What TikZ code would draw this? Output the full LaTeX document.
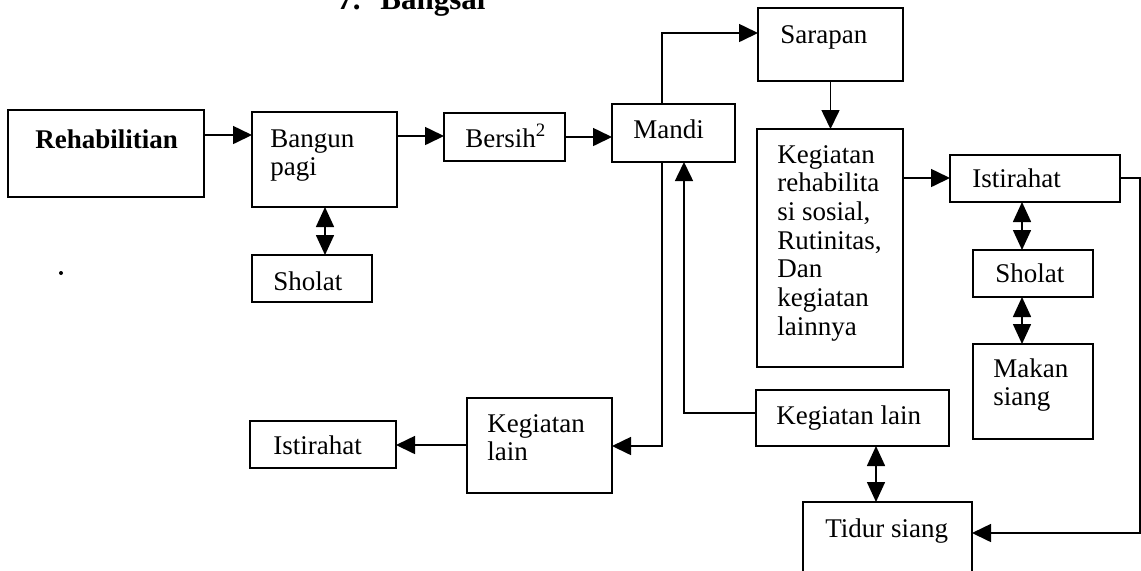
\documentclass[tikz,border=0pt]{standalone}
\usepackage{fontspec}
\setmainfont{Liberation Serif}
\usetikzlibrary{arrows.meta}

% box from its corners (x1,y1) to (x2,y2), in picture units
\newcommand\mkbox[5]{%
  \pgfmathsetmacro\bw{(#4-#2)*0.5}%
  \pgfmathsetmacro\bh{(#5-#3)*0.5}%
  \node[box, minimum width=\bw pt, minimum height=\bh pt] (#1) at ({(#2+#4)/2},{(#3+#5)/2}) {};}
% several lines, hung from the baseline of the first one
\newcommand\lines[1]{\begin{tabular}[t]{@{}l@{}}#1\end{tabular}}

\begin{document}
\begin{tikzpicture}[x=0.5pt,y=-0.5pt,
  box/.style={draw, line width=0.85pt, inner sep=0pt, outer sep=0pt},
  txt/.style={anchor=base west, inner sep=0pt,
              font=\fontsize{13.5}{14.35}\selectfont},
  ttl/.style={anchor=base west, inner sep=0pt,
              font=\fontsize{15.5}{17}\selectfont\bfseries},
  link/.style={line width=0.8pt},
  arr/.style={link, -{Triangle[length=9.5pt,width=9pt]}},
  dbl/.style={link, {Triangle[length=10pt,width=9pt]}-{Triangle[length=10pt,width=9pt]}}]

\useasboundingbox (0,0) rectangle (1141,570);

% heading
\node[ttl] (num) at (337,9) {7.};
\node[ttl] (head) at (380,9) {Bangsal};

% boxes
\mkbox{rehab}{8}{110}{204}{197}
\mkbox{bangun}{252}{112}{397}{207}
\mkbox{bersih}{444}{113}{565}{161}
\mkbox{mandi}{612}{104}{735}{162}
\mkbox{sarapan}{758}{8}{903}{81}
\mkbox{keg}{757}{129}{903}{367}
\mkbox{istR}{950}{155}{1120}{202}
\mkbox{sholR}{973}{250}{1093}{297}
\mkbox{makan}{973}{344}{1093}{439}
\mkbox{lainR}{756}{390}{949}{446}
\mkbox{lainL}{467}{398}{612}{493}
\mkbox{istL}{250}{421}{396}{468}
\mkbox{tidur}{803}{502}{972}{590}
\mkbox{sholL}{252}{255}{372}{302}

% box texts
\node[txt, font=\fontsize{13.5}{14.35}\selectfont\bfseries] (trehab) at (35,148) {Rehabilitian};
\node[txt] (tbangun) at (270,147) {\lines{Bangun\\pagi}};
\node[txt] (tbersih) at (465,147) {Bersih\textsuperscript{2}};
\node[txt] (tmandi) at (633,138) {Mandi};
\node[txt] (tsarapan) at (780,43) {Sarapan};
\node[txt] (tkeg) at (777,163) {\lines{Kegiatan\\rehabilita\\si sosial,\\Rutinitas,\\Dan\\kegiatan\\lainnya}};
\node[txt] (tistR) at (972,187) {Istirahat};
\node[txt] (tsholR) at (995,282) {Sholat};
\node[txt] (tmakan) at (993,377) {\lines{Makan\\siang}};
\node[txt] (tlainR) at (776,424) {Kegiatan lain};
\node[txt] (tlainL) at (487,432) {\lines{Kegiatan\\lain}};
\node[txt] (tistL) at (273,454) {Istirahat};
\node[txt] (ttidur) at (825,537) {Tidur siang};
\node[txt] (tsholL) at (273,290) {Sholat};

% stray dot
\fill (61,273) circle (2);

% routing rows and columns
\coordinate (y135) at (0,135);
\coordinate (y136) at (0,136);
\coordinate (y137) at (0,137);
\coordinate (y33) at (0,33);
\coordinate (y178) at (0,178);
\coordinate (y533) at (0,533);
\coordinate (y413) at (0,413);
\coordinate (y446) at (0,446);
\coordinate (y445) at (0,445);
\coordinate (x662) at (662,0);
\coordinate (x684) at (684,0);
\coordinate (x1140) at (1140,0);
\coordinate (x1022) at (1022,0);
\coordinate (x876) at (876,0);
\coordinate (x325) at (325,0);

% connectors
\draw[arr] (rehab.east |- y135) -- (bangun.west |- y135);
\draw[arr] (bangun.east |- y136) -- (bersih.west |- y136);
\draw[arr] (bersih.east |- y137) -- (mandi.west |- y137);
\draw[arr] (x662 |- mandi.north) |- (sarapan.west |- y33);
\draw[arr] (sarapan.south) -- (sarapan.south |- keg.north);
\draw[arr] (keg.east |- y178) -- (istR.west |- y178);
\draw[arr] (istR.east |- y178) -- (x1140 |- y178) -- (x1140 |- y533) -- (tidur.east |- y533);
\draw[dbl] (x1022 |- istR.south) -- (x1022 |- sholR.north);
\draw[dbl] (x1022 |- sholR.south) -- (x1022 |- makan.north);
\draw[arr] (lainR.west |- y413) -| (x684 |- mandi.south);
\draw[arr] (x662 |- mandi.south) |- (lainL.east |- y446);
\draw[arr] (lainL.west |- y445) -- (istL.east |- y445);
\draw[dbl] (x876 |- lainR.south) -- (x876 |- tidur.north);
\draw[dbl] (x325 |- bangun.south) -- (x325 |- sholL.north);

\end{tikzpicture}
\end{document}
